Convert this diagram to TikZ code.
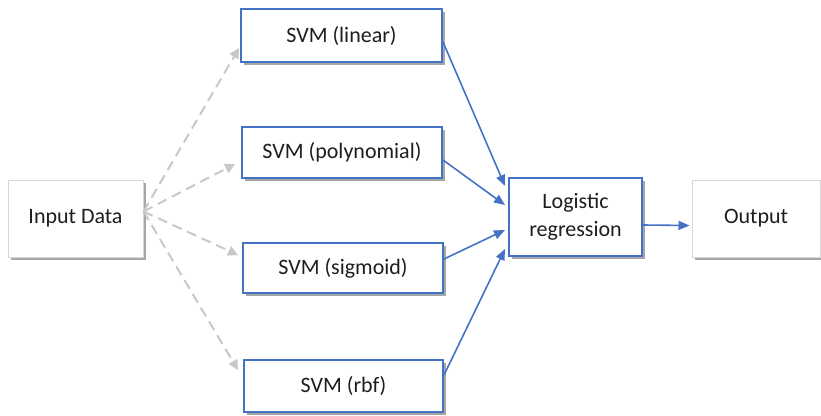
\documentclass[tikz,border=0pt]{standalone}
\usepackage{fontspec}
\setmainfont{Carlito}
\usetikzlibrary{arrows.meta,shadows,calc}

\definecolor{boxblue}{RGB}{68,114,196}
\definecolor{dashgray}{RGB}{200,200,200}
\definecolor{edgegray}{RGB}{215,215,215}
\definecolor{txt}{RGB}{30,30,30}

\tikzset{
  base/.style={rectangle, fill=white, text=txt, align=center,
    font=\fontsize{22}{28}\selectfont, inner sep=0pt,
    drop shadow={shadow xshift=3pt, shadow yshift=-3pt, fill=black, opacity=0.35}},
  svmbox/.style={base, draw=boxblue, line width=2pt},
  endbox/.style={base, draw=edgegray, line width=1pt},
  feed/.style={draw=dashgray, line width=2pt, dash pattern=on 10pt off 6pt,
    -{Triangle[length=10pt,width=10pt,fill=dashgray]}},
  vote/.style={draw=boxblue, line width=1.6pt,
    -{Triangle[length=11pt,width=9pt,fill=boxblue]}}
}

\begin{document}
\begin{tikzpicture}[x=1pt,y=-1pt]
  \useasboundingbox (0,0) rectangle (821,415);

  % boxes
  \node[endbox, minimum width=135pt, minimum height=77pt] (inp) at (75.5,218.5) {Input Data};
  \node[svmbox, minimum width=201pt, minimum height=53pt] (lin) at (341.5,35.5) {SVM (linear)};
  \node[svmbox, minimum width=200pt, minimum height=51pt] (poly) at (342,152.5) {SVM (polynomial)};
  \node[svmbox, minimum width=200pt, minimum height=50pt] (sig) at (343,268) {SVM (sigmoid)};
  \node[svmbox, minimum width=199pt, minimum height=52pt] (rbf) at (343.5,386) {SVM (rbf)};
  \node[svmbox, minimum width=133pt, minimum height=78pt] (log) at (575.5,217) {Logistic\\regression};
  \node[endbox, minimum width=128pt, minimum height=77pt] (out) at (756,218.5) {Output};

  % common origin of the dashed feeds
  \coordinate (src) at ($(inp.east)+(0,-7)$);

  % dashed feeds into the four SVMs
  \draw[feed] (src) -- ($(lin.west)+(-1,12.5)$);
  \draw[feed] (src) -- ($(poly.west)+(-6,11.5)$);
  \draw[feed] (src) -- ($(sig.west)+(-4,-13)$);
  \draw[feed] (src) -- ($(rbf.west)+(-5,-16)$);

  % SVM outputs into the logistic regression
  \draw[vote] ($(lin.east)+(0,6.5)$) -- ($(log.west)+(-3,-31)$);
  \draw[vote] ($(poly.east)+(0,7.5)$) -- ($(log.west)+(-3,-12)$);
  \draw[vote] ($(sig.east)+(0,-9)$) -- ($(log.west)+(-3,13)$);
  \draw[vote] ($(rbf.east)+(0,-11)$) -- ($(log.west)+(-3,32)$);

  % final output
  \draw[vote] ($(log.east)+(0,8)$) -- ($(out.west)+(-2,7)$);
\end{tikzpicture}
\end{document}
